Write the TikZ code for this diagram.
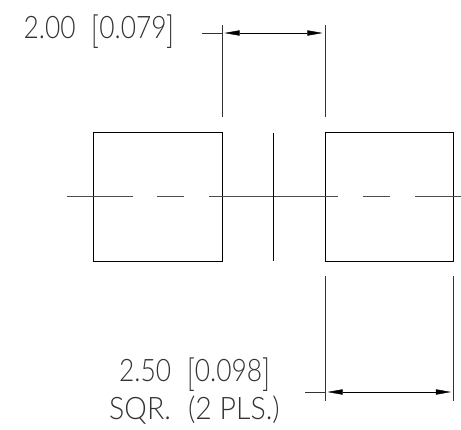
\documentclass[tikz,border=0pt]{standalone}
\usepackage{fontspec}
\usepackage{graphicx}
\setmainfont{Lato}[UprightFont=* Light]
\usetikzlibrary{arrows.meta, positioning}
\newcommand{\tallb}[1]{\raisebox{-.17em}{\scalebox{1}[1.22]{#1}}}

\begin{document}
\begin{tikzpicture}[x=1pt, y=-1pt]
	\tikzset{>={Triangle[length=18pt, width=6pt]}, line width=1.2pt,
		padbox/.style={draw, minimum size=128.5pt, inner sep=0pt, outer sep=0pt},
		dimtext/.style={font=\fontsize{31}{38}\selectfont, text=black!80, inner sep=0pt, align=center, xscale=.85},
		extline/.style={line width=1pt, black!80},
		centerline/.style={line width=1pt, black!70, dash pattern=on 66pt off 24pt on 27pt off 25pt on 129pt off 25pt on 27pt off 25pt on 70pt}}
	\useasboundingbox (0,0) rectangle (461,429);

	\node[padbox] (L) at (157.75,196.75) {};
	\node[padbox, right=103pt of L] (R) {};
	\node[dimtext] (gap) at (99,32) {2.00\,\, \tallb{[}0.079\tallb{]}};
	\node[dimtext] (size) at (194.5,391) {2.50\,\, \tallb{[}0.098\tallb{]}\\\scalebox{1.08}[1]{SQR.\,\, (2 PLS.)}};

	\coordinate (cS) at (67,196.5);
	\coordinate (cE) at (461,196.5);
	\coordinate (mT) at (273.5,132.5);
	\coordinate (mB) at (273.5,261);
	\coordinate (gA) at (222,25);
	\coordinate (gB) at (222,117);
	\coordinate (gC) at (325,25);
	\coordinate (gD) at (325,117);
	\coordinate (gF) at (202,33);
	\coordinate (gG) at (222,33);
	\coordinate (gH) at (325,33);
	\coordinate (sA) at (325,276);
	\coordinate (sB) at (325,400.5);
	\coordinate (sC) at (453.5,276);
	\coordinate (sD) at (453.5,400.5);
	\coordinate (sF) at (305,392);
	\coordinate (sG) at (325,392);
	\coordinate (sH) at (453.5,392);

	\draw[centerline] (cS) -- (cE);
	\draw (mT) -- (mB);
	\draw[extline]
		(gA) -- (gB)
		(gC) -- (gD)
		(sA) -- (sB)
		(sC) -- (sD)
		(gF) -- (gG)
		(sF) -- (sG);
	\draw[<->] (gG) -- (gH);
	\draw[<->] (sG) -- (sH);
\end{tikzpicture}
\end{document}
